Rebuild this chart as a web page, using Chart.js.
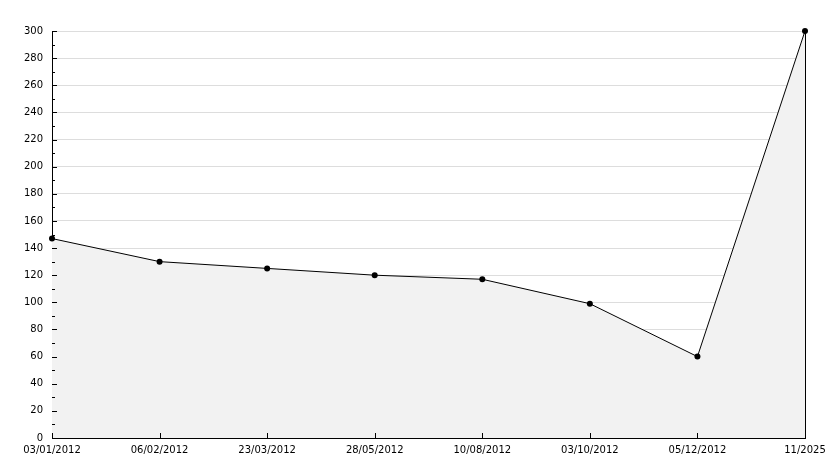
<!DOCTYPE html>
<html>
<head>
<meta charset="utf-8">
<script src="https://cdn.jsdelivr.net/npm/chart.js@4/dist/chart.umd.min.js"></script>
<style>
    html, body { margin: 0; padding: 0; background: #ffffff; }
    #wrap { width: 834px; height: 468px; }
</style>
</head>
<body>
<div id="wrap"><canvas id="lineChart"></canvas></div>
<script>
// Chart data
const dateLabels = ['03/01/2012', '06/02/2012', '23/03/2012', '28/05/2012', '10/08/2012', '03/10/2012', '05/12/2012', '11/2025'];
const seriesValues = [147, 130, 125, 120, 117, 99, 60, 300];
const yMin = 0;
const yMax = 300;
const yStep = 20;

// Small ticks drawn inside the plot area, plus the right border
const innerTicks = {
    id: 'innerTicks',
    afterDatasetsDraw(chart) {
        const ctx = chart.ctx;
        const area = chart.chartArea;
        const x = chart.scales.x;
        const y = chart.scales.y;
        ctx.save();
        ctx.strokeStyle = '#000000';
        ctx.lineWidth = 1;
        ctx.beginPath();
        // right border
        ctx.moveTo(area.right + 0.5, area.top);
        ctx.lineTo(area.right + 0.5, area.bottom);
        // y major and minor ticks
        for (let v = yMin; v <= yMax; v += yStep / 2) {
            const py = Math.round(y.getPixelForValue(v)) + 0.5;
            const len = (v % yStep === 0) ? 5 : 3;
            ctx.moveTo(area.left, py);
            ctx.lineTo(area.left + len, py);
        }
        // x ticks
        dateLabels.forEach((label, i) => {
            const px = Math.round(x.getPixelForValue(i)) + 0.5;
            ctx.moveTo(px, area.bottom);
            ctx.lineTo(px, area.bottom - 5);
        });
        ctx.stroke();
        ctx.restore();
    }
};

Chart.defaults.font.family = '"DejaVu Sans", Verdana, sans-serif';
Chart.defaults.font.size = 10;
Chart.defaults.color = '#000000';

new Chart(document.getElementById('lineChart'), {
    type: 'line',
    data: {
        labels: dateLabels,
        datasets: [{
            data: seriesValues,
            borderColor: '#000000',
            borderWidth: 1,
            backgroundColor: '#f2f2f2',
            fill: 'origin',
            tension: 0,
            clip: false,
            pointRadius: 3,
            pointHoverRadius: 3,
            pointBackgroundColor: '#000000',
            pointBorderColor: '#000000',
            pointBorderWidth: 0
        }]
    },
    options: {
        responsive: true,
        maintainAspectRatio: false,
        animation: false,
        layout: {
            padding: { top: 31, right: 29, bottom: 0, left: 0 }
        },
        plugins: {
            legend: { display: false },
            title: { display: false },
            tooltip: { enabled: false }
        },
        scales: {
            x: {
                offset: false,
                grid: { display: false, drawTicks: false },
                border: { display: true, color: '#000000', width: 1 },
                ticks: {
                    padding: 6,
                    maxRotation: 0,
                    autoSkip: false,
                    color: '#000000'
                },
                afterFit(scale) { scale.height = 30; }
            },
            y: {
                min: yMin,
                max: yMax,
                grid: { color: '#dddddd', drawTicks: false },
                border: { display: true, color: '#000000', width: 1 },
                ticks: {
                    stepSize: yStep,
                    padding: 9,
                    color: '#000000'
                },
                afterFit(scale) { scale.width = 52; }
            }
        }
    },
    plugins: [innerTicks]
});
</script>
</body>
</html>
